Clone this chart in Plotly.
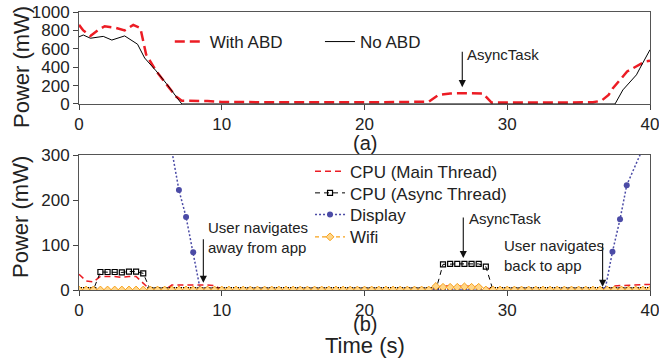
import plotly.graph_objects as go

# ---------------- (a) top panel data ----------------
t_with_abd = [0, 0.3, 0.8, 1.3, 1.8, 2.5, 3.2, 3.8, 4.3, 4.7, 5.4, 6.1, 6.8, 7.2, 8, 9, 10,
              12, 15, 20, 24, 24.5, 25.2, 26, 27, 28.3, 28.9, 30, 33, 36, 36.6, 37.1,
              37.4, 37.9, 38.4, 38.7, 39.3, 39.65, 40]
p_with_abd = [860, 800, 740, 800, 845, 830, 800, 860, 825, 540, 360, 220, 80, 35, 35, 33, 22,
              18, 18, 18, 18, 25, 100, 115, 117, 115, 15, 15, 15, 18, 36, 98,
              171, 262, 353, 379, 426, 462, 470]

t_no_abd = [0, 0.3, 0.8, 1.7, 2.3, 3.2, 4.1, 4.6, 5.4, 6.1, 7.2, 37.55, 38.1, 38.6, 39.05,
            39.3, 40]
p_no_abd = [730, 750, 715, 735, 695, 740, 650, 500, 360, 226, 0, 0, 153, 244, 317,
            390, 590]

# ---------------- (b) bottom panel data ----------------
t_grid = [0, 0.5, 1, 1.5, 2, 2.5, 3, 3.5, 4, 4.5,
          5, 5.5, 6, 6.5, 7, 7.5, 8, 8.5, 9, 9.5,
          10, 10.5, 11, 11.5, 12, 12.5, 13, 13.5, 14, 14.5,
          15, 15.5, 16, 16.5, 17, 17.5, 18, 18.5, 19, 19.5,
          20, 20.5, 21, 21.5, 22, 22.5, 23, 23.5, 24, 24.5,
          25, 25.5, 26, 26.5, 27, 27.5, 28, 28.5, 29, 29.5,
          30, 30.5, 31, 31.5, 32, 32.5, 33, 33.5, 34, 34.5,
          35, 35.5, 36, 36.5, 37, 37.5, 38, 38.5, 39, 39.5,
          40]

cpu_main = [35, 20, 18, 30, 30, 30, 28, 30, 30, 14,
            0, 0, 0, 11, 11, 12, 12, 12, 11, 10,
            0, 0, 0, 0, 0, 0, 0, 0, 0, 0,
            0, 0, 0, 0, 0, 0, 0, 0, 0, 0,
            0, 0, 0, 0, 0, 0, 0, 0, 0, 0,
            5, 9, 9, 9, 9, 9, 8, 5, 0, 0,
            0, 0, 0, 0, 0, 0, 0, 0, 0, 0,
            0, 0, 0, 0, 2, 9, 10, 11, 12, 12,
            12]

cpu_async = [0, 0, 0, 40, 40, 40, 39, 41, 41, 37,
             0, 0, 0, 0, 0, 0, 0, 0, 0, 0,
             0, 0, 0, 0, 0, 0, 0, 0, 0, 0,
             0, 0, 0, 0, 0, 0, 0, 0, 0, 0,
             0, 0, 0, 0, 0, 0, 0, 0, 0, 0,
             0, 57, 58, 58, 58, 58, 58, 52, 0, 0,
             0, 0, 0, 0, 0, 0, 0, 0, 0, 0,
             0, 0, 0, 0, 0, 0, 0, 0, 0, 0,
             0]

t_display = [0, 0.5, 1, 1.5, 2, 2.5, 3, 3.5, 4, 4.5,
             5, 5.5, 6, 6.5, 7, 7.5, 8, 8.5, 9, 9.5,
             10, 10.5, 11, 11.5, 12, 12.5, 13, 13.5, 14, 14.5,
             15, 15.5, 16, 16.5, 17, 17.5, 18, 18.5, 19, 19.5,
             20, 20.5, 21, 21.5, 22, 22.5, 23, 23.5, 24, 24.5,
             25, 25.5, 26, 26.5, 27, 27.5, 28, 28.5, 29, 29.5,
             30, 30.5, 31, 31.5, 32, 32.5, 33, 33.5, 34, 34.5,
             35, 35.5, 36, 36.5, 36.85, 37.37, 37.9, 38.37, 39.85]
display = [700, 700, 700, 700, 700, 700, 700, 700, 700, 700,
           650, 560, 440, 310, 222, 162, 84, 0, 0, 0,
           0, 0, 0, 0, 0, 0, 0, 0, 0, 0,
           0, 0, 0, 0, 0, 0, 0, 0, 0, 0,
           0, 0, 0, 0, 0, 0, 0, 0, 0, 0,
           0, 0, 0, 0, 0, 0, 0, 0, 0, 0,
           0, 0, 0, 0, 0, 0, 0, 0, 0, 0,
           0, 0, 0, 0, 0, 85, 157, 233, 340]

wifi = [0, 0, 0, 0, 0, 0, 0, 0, 0, 0,
        0, 0, 0, 0, 0, 0, 0, 0, 0, 0,
        0, 0, 0, 0, 0, 0, 0, 0, 0, 0,
        0, 0, 0, 0, 0, 0, 0, 0, 0, 0,
        0, 0, 0, 0, 0, 0, 0, 0, 0, 0,
        8, 6, 6, 6, 7, 6, 6, 0, 0, 0,
        0, 0, 0, 0, 0, 0, 0, 0, 0, 0,
        0, 0, 0, 0, 0, 0, 0, 0, 0, 0,
        0]

x_ticks = [0, 10, 20, 30, 40]
y_ticks_a = [0, 200, 400, 600, 800, 1000]
y_ticks_b = [0, 100, 200, 300]

RED = "#ec1c24"
BLUE = "#4b4ba6"
ORANGE = "#f7a11a"
FONT = "Arial, Liberation Sans, sans-serif"
TXT = "#222"

fig = go.Figure()

# top panel
fig.add_trace(go.Scatter(x=t_with_abd, y=p_with_abd, mode="lines", name="With ABD",
                         line=dict(color=RED, width=2.5, dash="10px,5px"),
                         xaxis="x2", yaxis="y2", legend="legend", showlegend=True))
fig.add_trace(go.Scatter(x=t_no_abd, y=p_no_abd, mode="lines", name="No ABD",
                         line=dict(color="black", width=1),
                         xaxis="x2", yaxis="y2", legend="legend2", showlegend=True))

# bottom panel
fig.add_trace(go.Scatter(x=t_grid, y=cpu_main, mode="lines", name="CPU (Main Thread)",
                         line=dict(color=RED, width=1.5, dash="6px,4px"),
                         legend="legend3", showlegend=True))
fig.add_trace(go.Scatter(x=t_grid, y=cpu_async, mode="lines+markers", name="CPU (Async Thread)",
                         line=dict(color="black", width=1, dash="5px,4px"),
                         marker=dict(symbol="square-open", size=5, color="black",
                                     line=dict(width=1.2)),
                         legend="legend4", showlegend=True))
fig.add_trace(go.Scatter(x=t_display, y=display, mode="lines+markers", name="Display",
                         line=dict(color=BLUE, width=1.5, dash="2px,2px"),
                         marker=dict(symbol="circle", size=6, color=BLUE),
                         legend="legend5", showlegend=True))
fig.add_trace(go.Scatter(x=t_grid, y=wifi, mode="lines+markers", name="Wifi",
                         line=dict(color=ORANGE, width=1.2, dash="4px,3px"),
                         marker=dict(symbol="diamond", size=6, color="#ffd68a",
                                     line=dict(color=ORANGE, width=1)),
                         legend="legend6", showlegend=True))

axis_common = dict(showline=True, linecolor="#555", linewidth=1, mirror=True,
                   showgrid=False, zeroline=False, ticks="outside", ticklen=5,
                   tickcolor="#444", automargin=False, ticklabeloverflow="allow",
                   tickfont=dict(size=17, color=TXT, family=FONT))


def leg(x, y, size=17):
    return dict(x=x, y=y, xanchor="left", yanchor="middle", orientation="h",
                visible=True, bgcolor="rgba(0,0,0,0)",
                font=dict(size=size, family=FONT, color=TXT))


fig.update_layout(
    width=659, height=364,
    margin=dict(l=79, r=9, t=12, b=74, autoexpand=False),
    paper_bgcolor="white", plot_bgcolor="white",
    showlegend=True,
    font=dict(family=FONT, color=TXT),
    xaxis=dict(domain=[0, 1], range=[0, 40], tickvals=x_ticks, anchor="y", **axis_common),
    yaxis=dict(domain=[0, 0.4856], range=[0, 300], tickvals=y_ticks_b, anchor="x", **axis_common),
    xaxis2=dict(domain=[0, 1], range=[0, 40], tickvals=x_ticks, anchor="y2", **axis_common),
    yaxis2=dict(domain=[0.6691, 1], range=[0, 1000], tickvals=y_ticks_a, anchor="x2", **axis_common),
    legend=leg(0.159, 0.892),
    legend2=leg(0.422, 0.892),
    legend3=leg(0.4046, 0.4255),
    legend4=leg(0.4046, 0.3478),
    legend5=leg(0.4046, 0.2698),
    legend6=leg(0.4046, 0.1896),
)

ann_font = dict(size=15, family=FONT, color=TXT)
title_font = dict(size=22, family=FONT, color=TXT)
panel_font = dict(size=20, family=FONT, color=TXT)
annotations = [
    # titles
    dict(text="Power (mW)", xref="paper", yref="paper", x=-0.1016, y=0.802, textangle=-90,
         xanchor="center", yanchor="middle", showarrow=False, font=title_font),
    dict(text="Power (mW)", xref="paper", yref="paper", x=-0.1016, y=0.2626, textangle=-90,
         xanchor="center", yanchor="middle", showarrow=False, font=title_font),
    dict(text="(a)", xref="paper", yref="paper", x=0.5009, y=0.528, showarrow=False,
         xanchor="center", yanchor="middle", font=panel_font),
    dict(text="(b)", xref="paper", yref="paper", x=0.5009, y=-0.1223, showarrow=False,
         xanchor="center", yanchor="middle", font=panel_font),
    dict(text="Time (s)", xref="paper", yref="paper", x=0.5009, y=-0.2014, showarrow=False,
         xanchor="center", yanchor="middle", font=dict(size=22, family=FONT, color=TXT)),
    # top AsyncTask
    dict(text="", xref="x2", yref="y2", x=26.85, y=182, ax=0, ay=-37, showarrow=True,
         arrowhead=2, arrowsize=1.3, arrowwidth=1.1, arrowcolor="#111"),
    dict(text="AsyncTask", xref="x2", yref="y2", x=27.05, y=536, xanchor="left",
         yanchor="middle", showarrow=False, font=ann_font),
    # bottom AsyncTask
    dict(text="", xref="x", yref="y", x=26.92, y=71, ax=0, ay=-42, showarrow=True,
         arrowhead=2, arrowsize=1.3, arrowwidth=1.1, arrowcolor="#111"),
    dict(text="AsyncTask", xref="x", yref="y", x=27.2, y=158, xanchor="left",
         yanchor="middle", showarrow=False, font=ann_font),
    # user navigates away
    dict(text="", xref="x", yref="y", x=8.71, y=16, ax=0, ay=-45, showarrow=True,
         arrowhead=2, arrowsize=1.3, arrowwidth=1.1, arrowcolor="#111"),
    dict(text="User navigates<br>away from app", xref="x", yref="y", x=8.9, y=117,
         xanchor="left", yanchor="middle", align="left", showarrow=False, font=ann_font),
    # user navigates back
    dict(text="", xref="x", yref="y", x=36.68, y=7, ax=0, ay=-45, showarrow=True,
         arrowhead=2, arrowsize=1.3, arrowwidth=1.1, arrowcolor="#111"),
    dict(text="User navigates<br>back to app", xref="x", yref="y", x=29.6, y=76,
         xanchor="left", yanchor="middle", align="left", showarrow=False, font=ann_font),
]
fig.update_layout(annotations=annotations)

fig.write_html("out.html", config={"displayModeBar": False},
               post_script="document.body.style.margin='0px';")
